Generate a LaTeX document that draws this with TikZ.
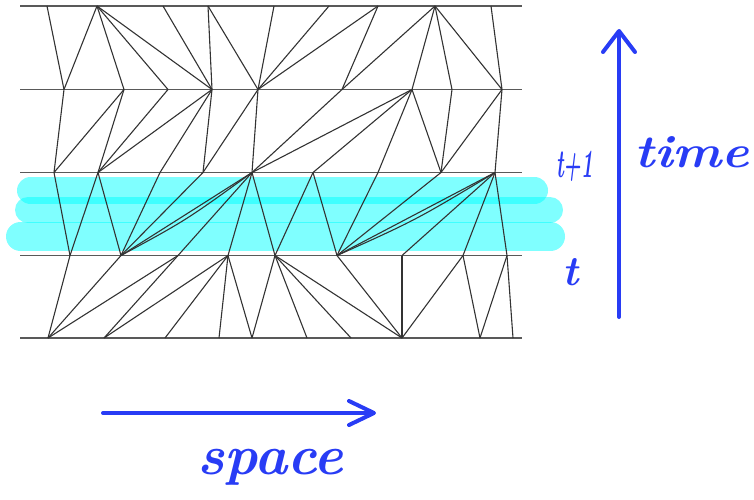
\documentclass[tikz,border=0pt]{standalone}
\usetikzlibrary{arrows.meta,calc}
\definecolor{penblue}{RGB}{40,60,245}
\definecolor{hl}{RGB}{0,255,255}
\begin{document}
\begin{tikzpicture}[x=1pt,y=-1pt,
  level/.style={draw=black!65, line width=1.6pt},
  edge/.style={draw=black!80, line width=1.1pt},
  capsule/.style={draw=hl, draw opacity=0.5, line cap=round},
  pen/.style={draw=penblue, line width=4pt, line cap=round, line join=round},
  hand/.style={text=penblue, font=\bfseries\itshape, inner sep=0pt, anchor=base west}]
\useasboundingbox (0,0) rectangle (754,499);

% highlight capsules
\coordinate (h1a) at (30.5,190.5); \coordinate (h1b) at (534.5,190.5);
\coordinate (h2a) at (28,210);     \coordinate (h2b) at (550,210);
\coordinate (h3a) at (20.5,236.5); \coordinate (h3b) at (550.5,236.5);
\draw[capsule, line width=27pt] (h1a) -- (h1b);
\draw[capsule, line width=26pt] (h2a) -- (h2b);
\draw[capsule, line width=29pt] (h3a) -- (h3b);

% time levels
\foreach \y [count=\k] in {6,89.5,172.5,255.5,338}{
  \coordinate (Lw\k) at (20,\y); \coordinate (Le\k) at (522,\y);
  \draw[level] (Lw\k) -- (Le\k);
}

% vertices
\foreach \x [count=\i] in {47,97,163,208,274,329,378,435,491} \coordinate (a\i) at (\x,6);
\foreach \x [count=\i] in {64,124,168,212,258,342,412,452,502} \coordinate (b\i) at (\x,89.5);
\foreach \x [count=\i] in {54,98,160,203,252,313,378,441,495} \coordinate (c\i) at (\x,172.5);
\foreach \x [count=\i] in {70,121,178,228,275,337,402,463,507} \coordinate (d\i) at (\x,255.5);
\foreach \x [count=\i] in {48,104,165,219,252,307,351,402,480,513} \coordinate (e\i) at (\x,338);

% edges
\foreach \u/\v in {a1/b1,a2/b1,a2/b2,a2/b3,a2/b4,a3/b4,a4/b4,a4/b5,a5/b5,a6/b5,a7/b5,a7/b6,a8/b6,a8/b7,a8/b8,a8/b9,a9/b9,
  b1/c1,b2/c1,b2/c2,b3/c2,b4/c2,b4/c3,b4/c4,b5/c4,b5/c5,b6/c5,b7/c5,b7/c6,b7/c7,b7/c8,b8/c8,b9/c8,b9/c9,
  c1/d1,c2/d1,c2/d2,c3/d2,c4/d2,c5/d2,c5/d3,c5/d4,c5/d5,c6/d5,c6/d6,c7/d6,c8/d6,c9/d6,c9/d7,c9/d8,c9/d9,
  d1/e1,d2/e1,d3/e1,d3/e2,d4/e2,d4/e3,d4/e4,d4/e5,d5/e5,d5/e6,d5/e7,d5/e8,d6/e8,d7/e8,d8/e8,d8/e9,d9/e9,d9/e10}
  \draw[edge] (\u) -- (\v);
\draw[edge] (d2) .. controls ($(d2)!0.5!(c5)+(0,6)$) .. (c5);
\draw[edge] (d6) .. controls ($(d6)!0.5!(c9)+(0,6)$) .. (c9);

% axes
\coordinate (tb) at (619,317); \coordinate (tt) at (619,29);
\draw[pen, -{Straight Barb[round,length=21pt,width=32pt]}] (tb) -- (tt);
\coordinate (sl) at (103,413); \coordinate (sr) at (376,413);
\draw[pen, -{Straight Barb[round,length=25pt,width=24pt]}] (sl) -- (sr);

% labels
\node[hand] (timelbl) at (634,167) {\fontsize{46}{46}\selectfont\scalebox{1.13}[1]{time}};
\node[hand] (t1lbl) at (556,177) {\fontsize{40}{40}\selectfont\scalebox{0.5}[1]{t+1}};
\node[hand] (tlbl) at (562,285) {\fontsize{42}{42}\selectfont t};
\node[hand] (spacelbl) at (197,474) {\fontsize{56}{56}\selectfont space};
\end{tikzpicture}
\end{document}
